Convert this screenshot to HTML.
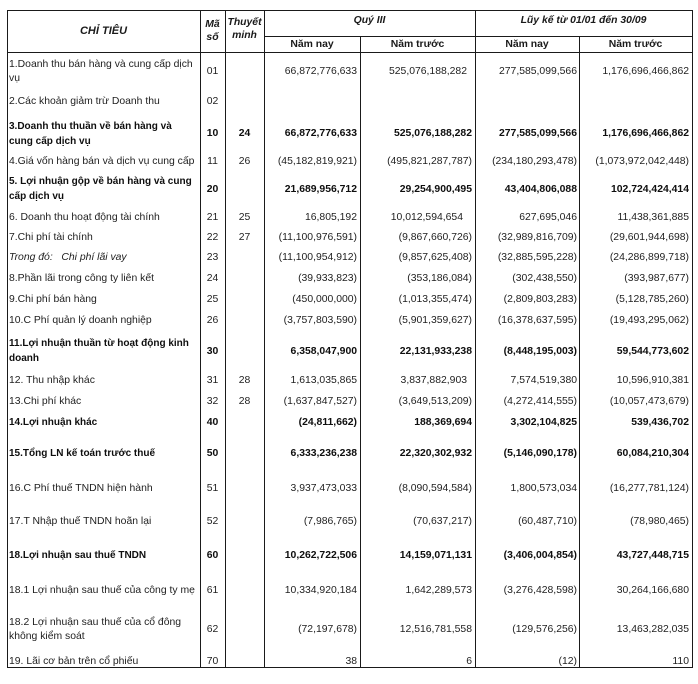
<!DOCTYPE html>
<html><head><meta charset="utf-8">
<style>
html,body{margin:0;padding:0;background:#fff}
#p{position:relative;width:698px;height:684px;overflow:hidden;background:#fff}
.t{position:absolute;font:10.4px/14px "Liberation Sans",Arial,sans-serif;color:#1e1e1e;white-space:nowrap}
.l{left:9px}
.c{left:200px;width:25px;text-align:center}
.n{left:225px;width:39px;text-align:center}
.a{right:341px;text-align:right}
.b{right:226px;text-align:right}
.e{right:121px;text-align:right}
.d{right:9px;text-align:right}
.bd{font-weight:bold;color:#0e0e0e}
.l.bd{font-size:10px;line-height:14.5px}
.it{font-style:italic}
.h{font-weight:bold;font-style:italic;color:#1a1a1a;text-align:center}
.hs{font-weight:bold;color:#1a1a1a;text-align:center}
.v{position:absolute;width:1px;background:#1a1a1a}
.hl{position:absolute;height:1px;background:#1a1a1a}
</style></head><body><div id="p">
<!-- lines -->
<div class="hl" style="left:7px;top:10px;width:686px"></div>
<div class="hl" style="left:264px;top:36px;width:429px"></div>
<div class="hl" style="left:7px;top:52px;width:686px"></div>
<div class="hl" style="left:7px;top:667px;width:686px"></div>
<div class="v" style="left:7px;top:10px;height:658px"></div>
<div class="v" style="left:200px;top:10px;height:658px"></div>
<div class="v" style="left:225px;top:10px;height:658px"></div>
<div class="v" style="left:264px;top:10px;height:658px"></div>
<div class="v" style="left:360px;top:36px;height:632px"></div>
<div class="v" style="left:475px;top:10px;height:658px"></div>
<div class="v" style="left:579px;top:36px;height:632px"></div>
<div class="v" style="left:692px;top:10px;height:658px"></div>
<!-- header -->
<div class="t h" style="left:7px;width:193px;top:24px;font-size:11px">CHỈ TIÊU</div>
<div class="t h" style="left:200px;width:25px;top:18px">Mã</div>
<div class="t h" style="left:200px;width:25px;top:31px">số</div>
<div class="t h" style="left:225px;width:39px;top:16px">Thuyết</div>
<div class="t h" style="left:225px;width:39px;top:29px">minh</div>
<div class="t h" style="left:264px;width:211px;top:14px">Quý III</div>
<div class="t h" style="left:475px;width:217px;top:14px">Lũy kế từ 01/01 đến 30/09</div>
<div class="t hs" style="left:264px;width:96px;top:38px">Năm nay</div>
<div class="t hs" style="left:360px;width:115px;top:38px">Năm trước</div>
<div class="t hs" style="left:475px;width:104px;top:38px">Năm nay</div>
<div class="t hs" style="left:579px;width:113px;top:38px">Năm trước</div>

<!-- r1 -->
<div class="t l" style="top:58px">1.Doanh thu bán hàng và cung cấp dịch<br>vụ</div>
<div class="t c" style="top:65px">01</div>
<div class="t a" style="top:65px">66,872,776,633</div>
<div class="t b" style="top:65px;right:231px">525,076,188,282</div>
<div class="t e" style="top:65px">277,585,099,566</div>
<div class="t d" style="top:65px">1,176,696,466,862</div>
<!-- r2 -->
<div class="t l" style="top:95px">2.Các khoản giảm trừ Doanh thu</div>
<div class="t c" style="top:95px">02</div>
<!-- r3 -->
<div class="t l bd" style="top:120px">3.Doanh thu thuần về bán hàng và<br>cung cấp dịch vụ</div>
<div class="t c bd" style="top:127px">10</div>
<div class="t n bd" style="top:127px">24</div>
<div class="t a bd" style="top:127px">66,872,776,633</div>
<div class="t b bd" style="top:127px">525,076,188,282</div>
<div class="t e bd" style="top:127px">277,585,099,566</div>
<div class="t d bd" style="top:127px">1,176,696,466,862</div>
<!-- r4 -->
<div class="t l" style="top:155px">4.Giá vốn hàng bán và dịch vụ cung cấp</div>
<div class="t c" style="top:155px">11</div>
<div class="t n" style="top:155px">26</div>
<div class="t a" style="top:155px">(45,182,819,921)</div>
<div class="t b" style="top:155px">(495,821,287,787)</div>
<div class="t e" style="top:155px">(234,180,293,478)</div>
<div class="t d" style="top:155px">(1,073,972,042,448)</div>
<!-- r5 -->
<div class="t l bd" style="top:175px">5. Lợi nhuận gộp về bán hàng và cung<br>cấp dịch vụ</div>
<div class="t c bd" style="top:183px">20</div>
<div class="t a bd" style="top:183px">21,689,956,712</div>
<div class="t b bd" style="top:183px">29,254,900,495</div>
<div class="t e bd" style="top:183px">43,404,806,088</div>
<div class="t d bd" style="top:183px">102,724,424,414</div>
<!-- r6 -->
<div class="t l" style="top:211px">6. Doanh thu hoạt động tài chính</div>
<div class="t c" style="top:211px">21</div>
<div class="t n" style="top:211px">25</div>
<div class="t a" style="top:211px">16,805,192</div>
<div class="t b" style="top:211px;right:235px">10,012,594,654</div>
<div class="t e" style="top:211px">627,695,046</div>
<div class="t d" style="top:211px">11,438,361,885</div>
<!-- r7 -->
<div class="t l" style="top:231px">7.Chi phí tài chính</div>
<div class="t c" style="top:231px">22</div>
<div class="t n" style="top:231px">27</div>
<div class="t a" style="top:231px">(11,100,976,591)</div>
<div class="t b" style="top:231px">(9,867,660,726)</div>
<div class="t e" style="top:231px">(32,989,816,709)</div>
<div class="t d" style="top:231px">(29,601,944,698)</div>
<!-- trong do -->
<div class="t l it" style="top:251px">Trong đó:&nbsp;&nbsp; Chi phí lãi vay</div>
<div class="t c" style="top:251px">23</div>
<div class="t a" style="top:251px">(11,100,954,912)</div>
<div class="t b" style="top:251px">(9,857,625,408)</div>
<div class="t e" style="top:251px">(32,885,595,228)</div>
<div class="t d" style="top:251px">(24,286,899,718)</div>
<!-- r8 -->
<div class="t l" style="top:272px">8.Phần lãi trong công ty liên kết</div>
<div class="t c" style="top:272px">24</div>
<div class="t a" style="top:272px">(39,933,823)</div>
<div class="t b" style="top:272px">(353,186,084)</div>
<div class="t e" style="top:272px">(302,438,550)</div>
<div class="t d" style="top:272px">(393,987,677)</div>
<!-- r9 -->
<div class="t l" style="top:293px">9.Chi phí bán hàng</div>
<div class="t c" style="top:293px">25</div>
<div class="t a" style="top:293px">(450,000,000)</div>
<div class="t b" style="top:293px">(1,013,355,474)</div>
<div class="t e" style="top:293px">(2,809,803,283)</div>
<div class="t d" style="top:293px">(5,128,785,260)</div>
<!-- r10 -->
<div class="t l" style="top:314px">10.C Phí quản lý doanh nghiệp</div>
<div class="t c" style="top:314px">26</div>
<div class="t a" style="top:314px">(3,757,803,590)</div>
<div class="t b" style="top:314px">(5,901,359,627)</div>
<div class="t e" style="top:314px">(16,378,637,595)</div>
<div class="t d" style="top:314px">(19,493,295,062)</div>
<!-- r11 -->
<div class="t l bd" style="top:337px">11.Lợi nhuận thuần từ hoạt động kinh<br>doanh</div>
<div class="t c bd" style="top:345px">30</div>
<div class="t a bd" style="top:345px">6,358,047,900</div>
<div class="t b bd" style="top:345px">22,131,933,238</div>
<div class="t e bd" style="top:345px">(8,448,195,003)</div>
<div class="t d bd" style="top:345px">59,544,773,602</div>
<!-- r12 -->
<div class="t l" style="top:374px">12. Thu nhập khác</div>
<div class="t c" style="top:374px">31</div>
<div class="t n" style="top:374px">28</div>
<div class="t a" style="top:374px">1,613,035,865</div>
<div class="t b" style="top:374px;right:231px">3,837,882,903</div>
<div class="t e" style="top:374px">7,574,519,380</div>
<div class="t d" style="top:374px">10,596,910,381</div>
<!-- r13 -->
<div class="t l" style="top:395px">13.Chi phí khác</div>
<div class="t c" style="top:395px">32</div>
<div class="t n" style="top:395px">28</div>
<div class="t a" style="top:395px">(1,637,847,527)</div>
<div class="t b" style="top:395px">(3,649,513,209)</div>
<div class="t e" style="top:395px">(4,272,414,555)</div>
<div class="t d" style="top:395px">(10,057,473,679)</div>
<!-- r14 -->
<div class="t l bd" style="top:416px">14.Lợi nhuận khác</div>
<div class="t c bd" style="top:416px">40</div>
<div class="t a bd" style="top:416px">(24,811,662)</div>
<div class="t b bd" style="top:416px">188,369,694</div>
<div class="t e bd" style="top:416px">3,302,104,825</div>
<div class="t d bd" style="top:416px">539,436,702</div>
<!-- r15 -->
<div class="t l bd" style="top:447px">15.Tổng LN kế toán trước thuế</div>
<div class="t c bd" style="top:447px">50</div>
<div class="t a bd" style="top:447px">6,333,236,238</div>
<div class="t b bd" style="top:447px">22,320,302,932</div>
<div class="t e bd" style="top:447px">(5,146,090,178)</div>
<div class="t d bd" style="top:447px">60,084,210,304</div>
<!-- r16 -->
<div class="t l" style="top:482px">16.C Phí thuế TNDN hiện hành</div>
<div class="t c" style="top:482px">51</div>
<div class="t a" style="top:482px">3,937,473,033</div>
<div class="t b" style="top:482px">(8,090,594,584)</div>
<div class="t e" style="top:482px">1,800,573,034</div>
<div class="t d" style="top:482px">(16,277,781,124)</div>
<!-- r17 -->
<div class="t l" style="top:515px">17.T Nhập thuế TNDN hoãn lại</div>
<div class="t c" style="top:515px">52</div>
<div class="t a" style="top:515px">(7,986,765)</div>
<div class="t b" style="top:515px">(70,637,217)</div>
<div class="t e" style="top:515px">(60,487,710)</div>
<div class="t d" style="top:515px">(78,980,465)</div>
<!-- r18 -->
<div class="t l bd" style="top:549px">18.Lợi nhuận sau thuế TNDN</div>
<div class="t c bd" style="top:549px">60</div>
<div class="t a bd" style="top:549px">10,262,722,506</div>
<div class="t b bd" style="top:549px">14,159,071,131</div>
<div class="t e bd" style="top:549px">(3,406,004,854)</div>
<div class="t d bd" style="top:549px">43,727,448,715</div>
<!-- r18.1 -->
<div class="t l" style="top:584px">18.1 Lợi nhuận sau thuế của công ty mẹ</div>
<div class="t c" style="top:584px">61</div>
<div class="t a" style="top:584px">10,334,920,184</div>
<div class="t b" style="top:584px">1,642,289,573</div>
<div class="t e" style="top:584px">(3,276,428,598)</div>
<div class="t d" style="top:584px">30,264,166,680</div>
<!-- r18.2 -->
<div class="t l" style="top:616px">18.2 Lợi nhuận sau thuế của cổ đông<br>không kiểm soát</div>
<div class="t c" style="top:623px">62</div>
<div class="t a" style="top:623px">(72,197,678)</div>
<div class="t b" style="top:623px">12,516,781,558</div>
<div class="t e" style="top:623px">(129,576,256)</div>
<div class="t d" style="top:623px">13,463,282,035</div>
<!-- r19 -->
<div class="t l" style="top:655px">19. Lãi cơ bản trên cổ phiếu</div>
<div class="t c" style="top:655px">70</div>
<div class="t a" style="top:655px">38</div>
<div class="t b" style="top:655px">6</div>
<div class="t e" style="top:655px">(12)</div>
<div class="t d" style="top:655px">110</div>
</div></body></html>
